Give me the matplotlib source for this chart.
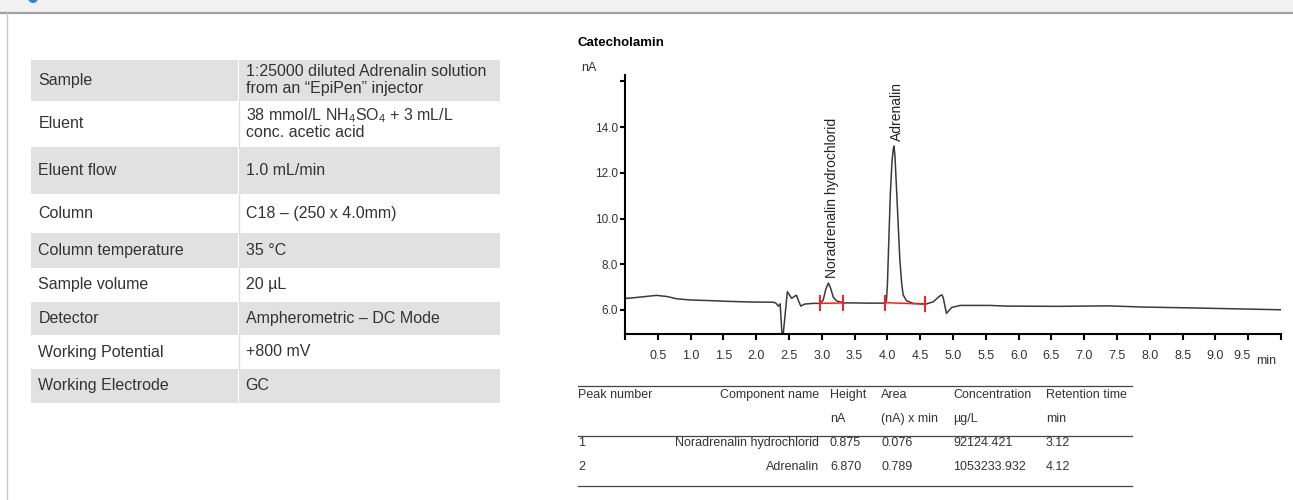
import numpy as np
import matplotlib.pyplot as plt
from matplotlib.patches import Rectangle, Circle
import matplotlib.transforms as mtransforms

plt.rcParams['font.family'] = ['Liberation Sans', 'DejaVu Sans']
plt.rcParams['mathtext.fontset'] = 'custom'
plt.rcParams['mathtext.rm'] = 'Liberation Sans'
plt.rcParams['mathtext.default'] = 'regular'

TXT = '#333333'

# measurement conditions (left table)
cond_labels = ['Sample', 'Eluent', 'Eluent flow', 'Column', 'Column temperature',
               'Sample volume', 'Detector', 'Working Potential', 'Working Electrode']
cond_values = [['1:25000 diluted Adrenalin solution', 'from an \u201cEpiPen\u201d injector'],
               ['38 mmol/L NH$_4$SO$_4$ + 3 mL/L', 'conc. acetic acid'],
               ['1.0 mL/min'],
               ['C18 \u2013 (250 x 4.0mm)'],
               ['35 \u00b0C'],
               ['20 \u00b5L'],
               ['Ampherometric \u2013 DC Mode'],
               ['+800 mV'],
               ['GC']]

# chromatogram trace
time_min = [0.00, 0.08, 0.28, 0.48, 0.64, 0.79, 0.99, 1.30, 1.55, 1.91, 2.26, 2.30,
            2.34, 2.365, 2.40, 2.475, 2.54, 2.60, 2.615, 2.645, 2.68, 2.74, 2.87,
            2.97, 3.02, 3.06, 3.10, 3.135, 3.175, 3.225, 3.33, 3.50, 3.70, 3.96,
            3.985, 4.00, 4.02, 4.045, 4.07, 4.09, 4.10, 4.115, 4.14, 4.166, 4.19,
            4.217, 4.24, 4.29, 4.39, 4.59, 4.70, 4.80, 4.83, 4.85, 4.90, 4.98,
            5.11, 5.56, 5.83, 6.60, 7.37, 7.88, 8.65, 9.16, 10.0]
signal_nA = [6.51, 6.52, 6.58, 6.64, 6.59, 6.49, 6.44, 6.41, 6.38, 6.35, 6.34, 6.30,
             6.17, 6.27, 4.60, 6.80, 6.51, 6.63, 6.64, 6.40, 6.17, 6.26, 6.29,
             6.29, 6.42, 6.90, 7.18, 6.95, 6.56, 6.40, 6.31, 6.31, 6.30, 6.30,
             6.40, 7.10, 8.90, 11.10, 12.50, 13.05, 13.17, 12.75, 11.25, 9.64, 8.19,
             7.18, 6.66, 6.41, 6.29, 6.26, 6.36, 6.62, 6.66, 6.55, 5.85, 6.11,
             6.20, 6.20, 6.17, 6.16, 6.18, 6.13, 6.09, 6.06, 6.01]

# peak results
peak_no = [1, 2]
peak_names = ['Noradrenalin hydrochlorid', 'Adrenalin']
peak_height = [0.875, 6.870]
peak_area = [0.076, 0.789]
peak_conc = [92124.421, 1053233.932]
peak_rt = [3.12, 4.12]

# integration windows
int_start = [2.98, 3.96]
int_end = [3.33, 4.57]
int_base_start = [6.29, 6.32]
int_base_end = [6.31, 6.26]

y_ticks = [6.0, 8.0, 10.0, 12.0, 14.0]
x_ticks = [0.5, 1.0, 1.5, 2.0, 2.5, 3.0, 3.5, 4.0, 4.5, 5.0,
           5.5, 6.0, 6.5, 7.0, 7.5, 8.0, 8.5, 9.0, 9.5]

fig = plt.figure(figsize=(12.93, 5.0), dpi=100)

# background layer in pixel coordinates
bg = fig.add_axes([0, 0, 1, 1])
bg.set_xlim(0, 1293)
bg.set_ylim(500, 0)
bg.axis('off')

# page header strip
bg.add_patch(Rectangle((0, 0), 1293, 12, color='#f1f1f1', lw=0))
bg.add_patch(Circle((33, -2), 5, color='#1e88e5', lw=0))
bg.plot([0, 1293], [13, 13], color='#a0a0a0', lw=1.6)
bg.plot([7, 7], [13, 500], color='#c8c8c8', lw=1)

# conditions table
row_edges = [59.5, 100.7, 146.7, 194, 233, 268, 301.7, 335, 369, 402.5]
tx0, tx1, tx2 = 31, 238.5, 500
for i, (lab, val) in enumerate(zip(cond_labels, cond_values)):
    y0, y1 = row_edges[i], row_edges[i + 1]
    yc = (y0 + y1) / 2
    if i % 2 == 0:
        bg.add_patch(Rectangle((tx0, y0), tx1 - tx0 - 0.8, y1 - y0, color='#e1e1e1', lw=0))
        bg.add_patch(Rectangle((tx1 + 0.8, y0), tx2 - tx1 - 0.8, y1 - y0, color='#e1e1e1', lw=0))
    else:
        bg.plot([tx1, tx1], [y0, y1], color='#dddddd', lw=1)
    bg.text(38.5, yc, lab, fontsize=11.5, color=TXT, va='center', ha='left')
    if len(val) == 1:
        bg.text(245.5, yc, val[0], fontsize=11.5, color=TXT, va='center', ha='left')
    else:
        bg.text(245.5, yc - 8.5, val[0], fontsize=11.5, color=TXT, va='center', ha='left')
        bg.text(245.5, yc + 8.5, val[1], fontsize=11.5, color=TXT, va='center', ha='left')

# chart texts
bg.text(578, 43, 'Catecholamin', fontsize=9.5, fontweight='bold', color='black',
        va='center', ha='left')
bg.text(589, 68, 'nA', fontsize=9, color=TXT, va='center', ha='center')
bg.text(1266, 361, 'min', fontsize=9, color=TXT, va='center', ha='center',
        fontfamily=['Liberation Sans Narrow', 'Liberation Sans'])

# chromatogram
ax = fig.add_axes([625 / 1293, 166 / 500, 656 / 1293, 259 / 500])
ax.set_xlim(0, 10)
ax.set_ylim(4.95, 16.28)
ax.patch.set_alpha(0)
for s in ['top', 'right']:
    ax.spines[s].set_visible(False)
for s in ['left', 'bottom']:
    ax.spines[s].set_linewidth(1.5)

ax.plot(time_min, signal_nA, color='#3a3a3a', lw=1.1)

for s, e, b0, b1 in zip(int_start, int_end, int_base_start, int_base_end):
    ax.plot([s, e], [b0, b1], color='#ff1a1a', lw=1.1, marker='|',
            markersize=12, markeredgewidth=1.4)

for name, rt, h, s, e, b0, b1 in zip(peak_names, peak_rt, peak_height,
                                     int_start, int_end, int_base_start, int_base_end):
    base = b0 + (b1 - b0) * (rt - s) / (e - s)
    ax.annotate(name, (rt, base + h), xytext=(1.5, 3.5), textcoords='offset points',
                rotation=90, ha='center', va='bottom', fontsize=10, color='#222222')

ax.set_yticks(y_ticks)
ax.set_yticklabels([f'{v:.1f}' for v in y_ticks])
ax.set_yticks([16.0], minor=True)
ax.set_xticks(x_ticks)
ax.set_xticklabels([f'{v:.1f}' for v in x_ticks],
                   fontfamily=['Liberation Sans Narrow', 'Liberation Sans'])
ax.set_xticks([0.0, 10.0], minor=True)
ax.tick_params(axis='y', which='both', direction='out', length=3.6, width=1.5,
               labelsize=8.5, pad=1.5, labelcolor=TXT)
ax.tick_params(axis='x', which='both', direction='out', length=4.3, width=1.5,
               labelsize=9, pad=7, labelcolor=TXT)
# last label sits a little left of its tick in the original
last = ax.get_xticklabels()[-1]
last.set_transform(last.get_transform() + mtransforms.ScaledTranslation(-6 / 100, 0, fig.dpi_scale_trans))

# results table
cols_x = [578, 819, 830, 881, 953, 1046]
cols_ha = ['left', 'right', 'left', 'left', 'left', 'left']
head1 = ['Peak number', 'Component name', 'Height', 'Area', 'Concentration', 'Retention time']
head2 = ['', '', 'nA', '(nA) x min', '\u00b5g/L', 'min']
rows = [[str(n), nm, f'{h:.3f}', f'{a:.3f}', f'{c:.3f}', f'{r:.2f}']
        for n, nm, h, a, c, r in zip(peak_no, peak_names, peak_height,
                                     peak_area, peak_conc, peak_rt)]
for yy in [386, 435.5, 486]:
    bg.plot([578, 1132], [yy, yy], color='#444444', lw=0.9)
for cells, yy in zip([head1, head2] + rows, [395, 419, 443, 467]):
    for txt, x, ha in zip(cells, cols_x, cols_ha):
        bg.text(x, yy, txt, fontsize=9, color=TXT, ha=ha, va='center')

fig.savefig('out.png', dpi=100)
